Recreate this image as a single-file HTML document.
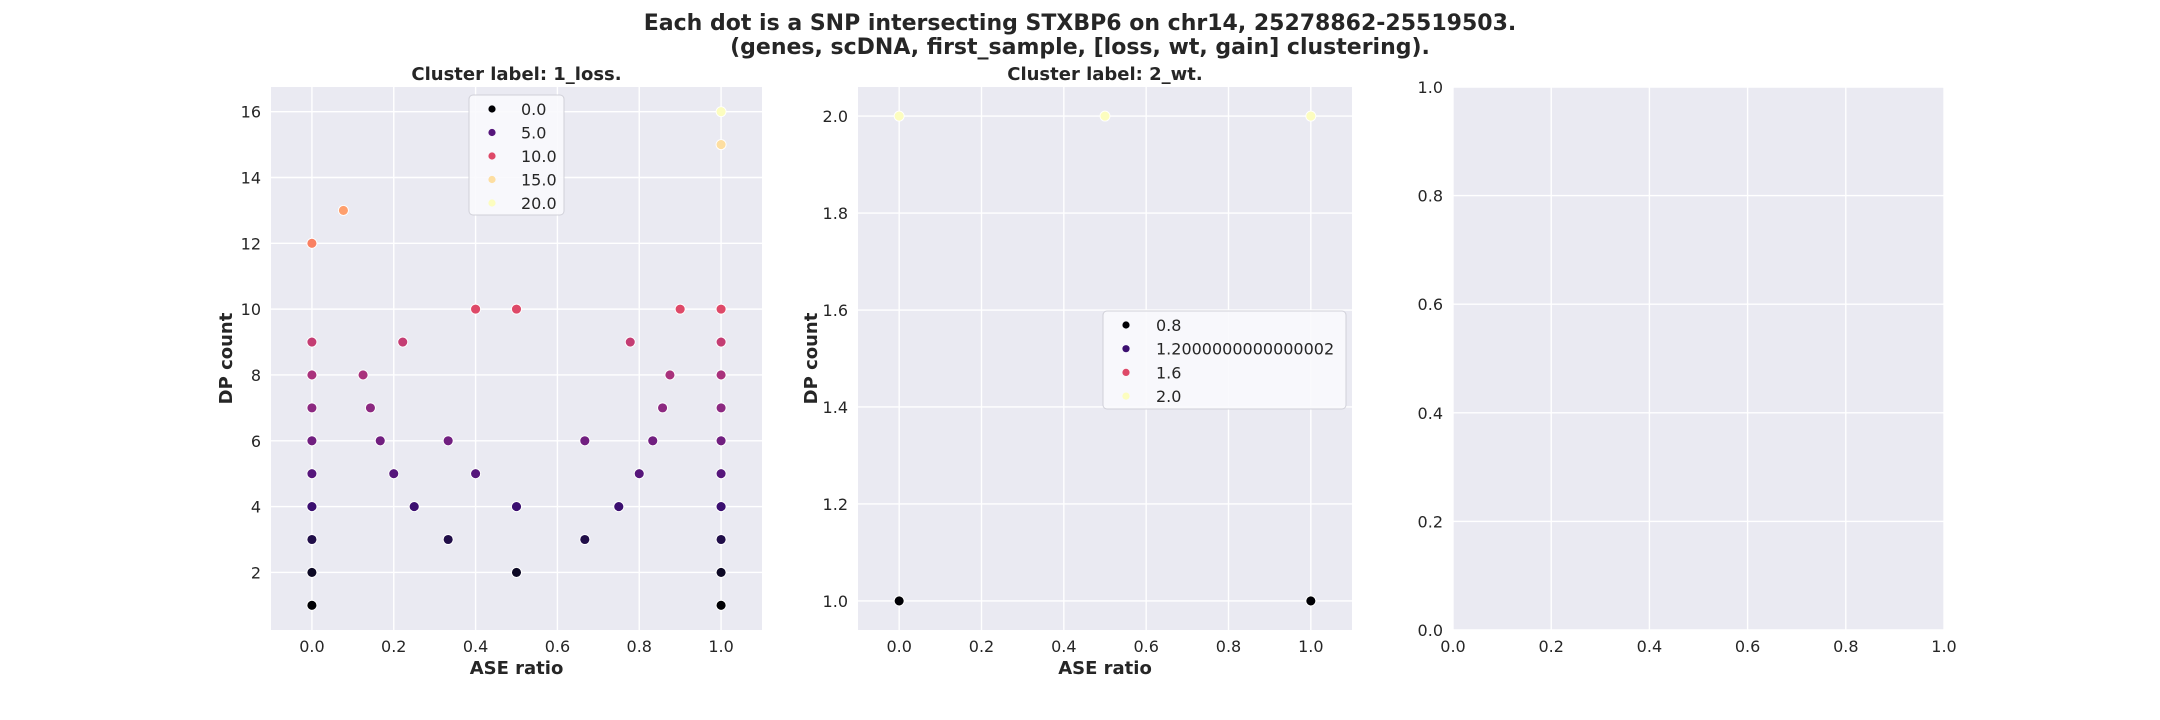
<!DOCTYPE html>
<html><head><meta charset="utf-8"><style>
html,body{margin:0;padding:0;background:#fff}
svg{display:block;font-family:"DejaVu Sans","Liberation Sans",sans-serif}
</style></head><body>
<svg id="fig" width="2160" height="720" viewBox="0 0 2160 720" xmlns="http://www.w3.org/2000/svg">
<text x="1080" y="30" text-anchor="middle" font-size="22" font-weight="bold" fill="#262626">Each dot is a SNP intersecting STXBP6 on chr14, 25278862-25519503.</text>
<text x="1080" y="54" text-anchor="middle" font-size="22" font-weight="bold" fill="#262626">(genes, scDNA, first_sample, [loss, wt, gain] clustering).</text>
</svg>
<script>
// Panel 1 data: ASE ratio and DP count
const p1X = [0,0,0,0,0,0,0,0,0,0, 0.077, 0.125,0.143,0.167,0.2,0.222,0.25, 0.333,0.333, 0.4,0.4, 0.5,0.5,0.5, 0.667,0.667, 0.75,0.778,0.8,0.833,0.857,0.875,0.9, 1,1,1,1,1,1,1,1,1,1,1,1];
const p1Y = [1,2,3,4,5,6,7,8,9,12, 13, 8,7,6,5,9,4, 3,6, 5,10, 2,4,10, 3,6, 4,9,5,6,7,8,10, 1,2,3,4,5,6,7,8,9,10,15,16];
const p1Legend = ["0.0","5.0","10.0","15.0","20.0"];
const p1LegendVals = [0,5,10,15,20];
// Panel 2 data
const p2X = [0,0.5,1,0,1];
const p2Y = [2,2,2,1,1];
const p2Legend = ["0.8","1.2000000000000002","1.6","2.0"];
const p2LegendVals = [0.8,1.2,1.6,2.0];
const xTicks = [0,0.2,0.4,0.6,0.8,1.0];
const xTickLabels = ["0.0","0.2","0.4","0.6","0.8","1.0"];
const p1YTicks = [2,4,6,8,10,12,14,16];
const p2YTicks = [1.0,1.2,1.4,1.6,1.8,2.0];
const p2YTickLabels = ["1.0","1.2","1.4","1.6","1.8","2.0"];
const p3Ticks = [0,0.2,0.4,0.6,0.8,1.0];
const p3TickLabels = ["0.0","0.2","0.4","0.6","0.8","1.0"];

const NS="http://www.w3.org/2000/svg";
const svg=document.getElementById('fig');
function mk(tag,attrs,parent){const e=document.createElementNS(NS,tag);for(const k in attrs)e.setAttribute(k,attrs[k]);(parent||svg).appendChild(e);return e;}
const magmaStops=[[0,0,4],[20,14,54],[59,15,112],[100,26,128],[140,41,129],[183,55,121],[222,73,104],[247,112,92],[254,159,109],[254,207,146],[252,253,191]];
function magma(t){t=Math.max(0,Math.min(1,t));const f=t*10,i=Math.min(9,Math.floor(f)),r=f-i;const a=magmaStops[i],b=magmaStops[i+1];return `rgb(${a.map((v,k)=>Math.round(v+(b[k]-v)*r)).join(',')})`;}

function axes(cfg){
  const g=mk('g',{});
  
  
  const L=cfg.L,R=cfg.R,T=87,B=630;
  const sx=v=>L+(v-cfg.xmin)/(cfg.xmax-cfg.xmin)*(R-L);
  const sy=v=>B-(v-cfg.ymin)/(cfg.ymax-cfg.ymin)*(B-T);
  const bg=mk('rect',{x:L,y:T,width:R-L,height:B-T,fill:'#eaeaf2'},g);
  
  
  cfg.xt.forEach((v,i)=>{
    const l=mk('line',{x1:sx(v),x2:sx(v),y1:T,y2:B,stroke:'#fff','stroke-width':1.4},g);
    
    
    const t=mk('text',{x:sx(v),y:B+22,'text-anchor':'middle','font-size':16,fill:'#262626'},g);
    
    
    t.textContent=cfg.xtl[i];
  });
  cfg.yt.forEach((v,i)=>{
    const l=mk('line',{x1:L,x2:R,y1:sy(v),y2:sy(v),stroke:'#fff','stroke-width':1.4},g);
    
    
    const t=mk('text',{x:L-10,y:sy(v)+6,'text-anchor':'end','font-size':16,fill:'#262626'},g);
    
    
    t.textContent=cfg.ytl[i];
  });
  if(cfg.title){
    const t=mk('text',{x:(L+R)/2,y:80,'text-anchor':'middle','font-size':18,'font-weight':'bold',fill:'#262626'},g);
    
    
    t.textContent=cfg.title;
  }
  if(cfg.xlabel){
    const t=mk('text',{x:(L+R)/2,y:674,'text-anchor':'middle','font-size':18,'font-weight':'bold',fill:'#262626'},g);
    
    
    t.textContent=cfg.xlabel;
  }
  if(cfg.ylabel){
    const t=mk('text',{x:0,y:0,'text-anchor':'middle','font-size':18,'font-weight':'bold',fill:'#262626',transform:`translate(${cfg.ylx},${(T+B)/2}) rotate(-90)`},g);
    
    
    t.textContent=cfg.ylabel;
  }
  if(cfg.px){
    cfg.px.forEach((v,i)=>{
      const c=mk('circle',{cx:sx(v),cy:sy(cfg.py[i]),r:5,fill:cfg.color(cfg.py[i]),stroke:'#fff','stroke-width':0.9},g);
      
      
    });
  }
  return g;
}
function legend(parent,x,y,w,h,labels,vals,color,mx,tx,y0,dy){
  const g=mk('g',{},parent);
  
  
  mk('rect',{x:x,y:y,width:w,height:h,rx:4,fill:'#fafafd','fill-opacity':0.9,stroke:'#d0d0d8','stroke-width':1},g);
  labels.forEach((lab,i)=>{
    const e=mk('g',{},g);
    
    
    mk('circle',{cx:mx,cy:y0+i*dy,r:3.6,fill:color(vals[i])},e);
    const t=mk('text',{x:tx,y:y0+i*dy+6,'font-size':16,fill:'#262626'},e);
    t.textContent=lab;
  });
}
const c1=d=>magma((d-1)/15);
const c2=d=>magma((d-1)/1);
const g1=axes({name:'panel-1-loss',L:271,R:762,xmin:-0.1,xmax:1.1,ymin:0.25,ymax:16.75,xt:xTicks,xtl:xTickLabels,yt:p1YTicks,ytl:p1YTicks.map(String),title:'Cluster label: 1_loss.',xlabel:'ASE ratio',ylabel:'DP count',ylx:232,px:p1X,py:p1Y,color:c1});
legend(g1,469,95,95,120,p1Legend,p1LegendVals,c1,492,521,109,23.5);
const g2=axes({name:'panel-2-wt',L:858,R:1352,xmin:-0.1,xmax:1.1,ymin:0.94,ymax:2.06,xt:xTicks,xtl:xTickLabels,yt:p2YTicks,ytl:p2YTickLabels,title:'Cluster label: 2_wt.',xlabel:'ASE ratio',ylabel:'DP count',ylx:817,px:p2X,py:p2Y,color:c2});
legend(g2,1103,311,243,98,p2Legend,p2LegendVals,c2,1126,1156,325,23.7);
axes({name:'panel-3-empty',L:1453,R:1944,xmin:0,xmax:1,ymin:0,ymax:1,xt:p3Ticks,xtl:p3TickLabels,yt:p3Ticks,ytl:p3TickLabels});
</script>
</body></html>
